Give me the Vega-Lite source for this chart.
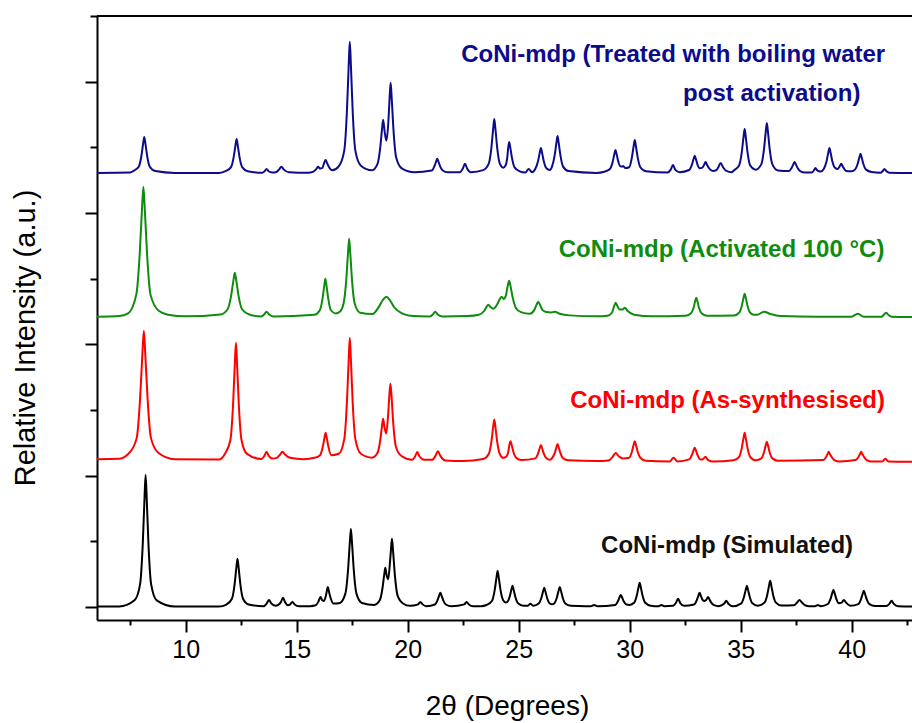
{
"$schema": "https://vega.github.io/schema/vega-lite/v6.json",
"width": 815, "height": 604,
"autosize": {"type": "none"},
"padding": {"left": 97, "top": 16, "right": 0, "bottom": 103},
"background": "white",
"config": {"view": {"stroke": null}, "font": "Liberation Sans"},
"datasets": {
"k": [{"x":6,"y":0.2},{"x":7,"y":0.3},{"x":7.69,"y":5},{"x":7.94,"y":17.1},{"x":8.06,"y":47.2},{"x":8.14,"y":82.4},{"x":8.19,"y":100.5},{"x":8.24,"y":82.4},{"x":8.32,"y":47.2},{"x":8.44,"y":17.1},{"x":8.69,"y":5},{"x":9.5,"y":0.3},{"x":11.5,"y":0.3},{"x":11.83,"y":1.8},{"x":12.08,"y":6.2},{"x":12.2,"y":17.2},{"x":12.28,"y":30},{"x":12.33,"y":36.6},{"x":12.38,"y":30},{"x":12.46,"y":17.2},{"x":12.58,"y":6.2},{"x":12.83,"y":1.8},{"x":13.5,"y":0.5},{"x":13.65,"y":2.7},{"x":13.75,"y":5.3},{"x":13.85,"y":2.7},{"x":14.05,"y":0.8},{"x":14.28,"y":3.4},{"x":14.38,"y":6.9},{"x":14.48,"y":3.4},{"x":14.6,"y":1.2},{"x":14.7,"y":1.9},{"x":14.8,"y":3.8},{"x":14.9,"y":1.9},{"x":15.1,"y":0.4},{"x":15.6,"y":0.5},{"x":15.85,"y":1.2},{"x":15.97,"y":3.8},{"x":16.07,"y":7.6},{"x":16.15,"y":5},{"x":16.23,"y":4.5},{"x":16.32,"y":9},{"x":16.4,"y":15.2},{"x":16.46,"y":11},{"x":16.54,"y":6},{"x":16.66,"y":2.5},{"x":16.94,"y":3.0},{"x":17.19,"y":10.1},{"x":17.31,"y":27.9},{"x":17.39,"y":48.7},{"x":17.44,"y":59.4},{"x":17.49,"y":48.7},{"x":17.57,"y":27.9},{"x":17.69,"y":10.1},{"x":17.94,"y":3.0},{"x":18.49,"y":1.5},{"x":18.74,"y":5},{"x":18.86,"y":14},{"x":18.94,"y":24.4},{"x":18.99,"y":29.7},{"x":19.05,"y":24},{"x":19.12,"y":21},{"x":19.2,"y":34},{"x":19.24,"y":42.5},{"x":19.29,"y":51.8},{"x":19.34,"y":42.5},{"x":19.42,"y":24.3},{"x":19.54,"y":8.8},{"x":19.79,"y":2.6},{"x":20.1,"y":0.8},{"x":20.47,"y":1.9},{"x":20.57,"y":3.8},{"x":20.67,"y":1.9},{"x":20.85,"y":0.5},{"x":21.22,"y":1.8},{"x":21.34,"y":5},{"x":21.42,"y":8.8},{"x":21.47,"y":10.7},{"x":21.52,"y":8.8},{"x":21.6,"y":5},{"x":21.72,"y":1.8},{"x":21.97,"y":0.5},{"x":22.55,"y":1.9},{"x":22.65,"y":3.8},{"x":22.75,"y":1.9},{"x":22.95,"y":0.4},{"x":23.3,"y":0.5},{"x":23.55,"y":1.4},{"x":23.8,"y":4.7},{"x":23.92,"y":12.9},{"x":24.0,"y":22.5},{"x":24.05,"y":27.4},{"x":24.1,"y":22.5},{"x":24.18,"y":12.9},{"x":24.3,"y":5},{"x":24.42,"y":3.3},{"x":24.52,"y":4.5},{"x":24.59,"y":7.5},{"x":24.67,"y":13.1},{"x":24.72,"y":16},{"x":24.77,"y":13.1},{"x":24.85,"y":7.5},{"x":24.97,"y":2.7},{"x":25.22,"y":0.8},{"x":25.4,"y":0.8},{"x":25.53,"y":2.3},{"x":25.66,"y":0.8},{"x":25.9,"y":2.5},{"x":26.02,"y":6.8},{"x":26.1,"y":11.9},{"x":26.15,"y":14.5},{"x":26.2,"y":11.9},{"x":26.28,"y":6.8},{"x":26.4,"y":2.6},{"x":26.5,"y":2.0},{"x":26.6,"y":2.6},{"x":26.72,"y":7.1},{"x":26.8,"y":12.5},{"x":26.85,"y":15.2},{"x":26.9,"y":12.5},{"x":26.98,"y":7.1},{"x":27.1,"y":2.6},{"x":27.35,"y":0.8},{"x":28.0,"y":0.5},{"x":28.25,"y":0.5},{"x":28.4,"y":1.5},{"x":28.55,"y":0.5},{"x":29.35,"y":1.5},{"x":29.47,"y":4.3},{"x":29.55,"y":7.5},{"x":29.6,"y":9.1},{"x":29.65,"y":7.5},{"x":29.73,"y":4.3},{"x":29.85,"y":1.8},{"x":30.0,"y":1.5},{"x":30.2,"y":3.1},{"x":30.32,"y":8.6},{"x":30.4,"y":15},{"x":30.45,"y":18.3},{"x":30.5,"y":15},{"x":30.58,"y":8.6},{"x":30.7,"y":3.1},{"x":30.95,"y":0.9},{"x":31.3,"y":0.5},{"x":31.43,"y":1.5},{"x":31.56,"y":0.5},{"x":31.95,"y":0.8},{"x":32.08,"y":2.9},{"x":32.18,"y":6.1},{"x":32.28,"y":2.9},{"x":32.45,"y":0.8},{"x":32.9,"y":1.8},{"x":33.02,"y":5},{"x":33.1,"y":8.8},{"x":33.15,"y":10.7},{"x":33.2,"y":8.8},{"x":33.28,"y":5.5},{"x":33.35,"y":4.5},{"x":33.43,"y":5},{"x":33.48,"y":6.2},{"x":33.53,"y":7.6},{"x":33.58,"y":6.2},{"x":33.66,"y":3.6},{"x":33.8,"y":1.3},{"x":34.0,"y":0.5},{"x":34.25,"y":2.3},{"x":34.35,"y":4.6},{"x":34.45,"y":2.3},{"x":34.65,"y":0.5},{"x":35.03,"y":2.7},{"x":35.15,"y":7.5},{"x":35.23,"y":13.1},{"x":35.28,"y":16},{"x":35.33,"y":13.1},{"x":35.41,"y":7.5},{"x":35.53,"y":2.7},{"x":35.78,"y":0.8},{"x":36.08,"y":3.4},{"x":36.2,"y":9.3},{"x":36.28,"y":16.2},{"x":36.33,"y":19.8},{"x":36.38,"y":16.2},{"x":36.46,"y":9.3},{"x":36.58,"y":3.4},{"x":36.83,"y":1},{"x":37.4,"y":1.2},{"x":37.55,"y":3.5},{"x":37.65,"y":5.3},{"x":37.75,"y":3.5},{"x":37.9,"y":1.2},{"x":38.1,"y":0.5},{"x":38.35,"y":0.5},{"x":38.48,"y":1.5},{"x":38.61,"y":0.5},{"x":38.93,"y":2.2},{"x":39.05,"y":6.1},{"x":39.13,"y":10.7},{"x":39.18,"y":13},{"x":39.23,"y":10.7},{"x":39.31,"y":6.1},{"x":39.42,"y":2.8},{"x":39.55,"y":3.2},{"x":39.65,"y":5.3},{"x":39.75,"y":3.2},{"x":39.95,"y":0.8},{"x":40.3,"y":2.1},{"x":40.42,"y":5.7},{"x":40.5,"y":10},{"x":40.55,"y":12.2},{"x":40.6,"y":10},{"x":40.68,"y":5.7},{"x":40.8,"y":2.1},{"x":41.05,"y":0.6},{"x":41.55,"y":0.6},{"x":41.7,"y":2.3},{"x":41.8,"y":4.6},{"x":41.9,"y":2.3},{"x":42.1,"y":0.5},{"x":42.75,"y":0.3}],
"r": [{"x":6,"y":112.5},{"x":7,"y":112.8},{"x":7.46,"y":117.4},{"x":7.79,"y":128.7},{"x":7.94,"y":158.2},{"x":8.045,"y":192.6},{"x":8.11,"y":210.3},{"x":8.175,"y":192.6},{"x":8.28,"y":158.2},{"x":8.43,"y":128.7},{"x":8.76,"y":117.4},{"x":9.5,"y":112.5},{"x":11.5,"y":112.3},{"x":11.76,"y":116.5},{"x":12.01,"y":127.1},{"x":12.13,"y":153.9},{"x":12.21,"y":185.1},{"x":12.26,"y":201.1},{"x":12.31,"y":185.1},{"x":12.39,"y":153.9},{"x":12.51,"y":127.1},{"x":12.76,"y":116.5},{"x":13.4,"y":112.6},{"x":13.54,"y":115},{"x":13.64,"y":118.1},{"x":13.74,"y":115},{"x":13.9,"y":113},{"x":14.1,"y":113.5},{"x":14.25,"y":116},{"x":14.36,"y":118.1},{"x":14.47,"y":116},{"x":14.7,"y":113.5},{"x":15.3,"y":112.5},{"x":15.8,"y":113.5},{"x":16.05,"y":115.5},{"x":16.17,"y":121.7},{"x":16.25,"y":128.9},{"x":16.3,"y":132.6},{"x":16.35,"y":128.9},{"x":16.43,"y":121.7},{"x":16.55,"y":115.5},{"x":16.89,"y":116.6},{"x":17.14,"y":127.8},{"x":17.26,"y":155.7},{"x":17.34,"y":188.2},{"x":17.39,"y":204.9},{"x":17.44,"y":188.2},{"x":17.52,"y":155.7},{"x":17.64,"y":127.8},{"x":17.89,"y":116.6},{"x":18.39,"y":113.6},{"x":18.64,"y":117.3},{"x":18.76,"y":126.7},{"x":18.84,"y":137.6},{"x":18.89,"y":143.2},{"x":18.95,"y":137},{"x":19.03,"y":132},{"x":19.12,"y":147},{"x":19.17,"y":160.5},{"x":19.22,"y":169.9},{"x":19.27,"y":160.5},{"x":19.35,"y":139.2},{"x":19.47,"y":121.8},{"x":19.72,"y":114.9},{"x":20.2,"y":112},{"x":20.33,"y":114.5},{"x":20.43,"y":117.9},{"x":20.53,"y":114.5},{"x":20.75,"y":112},{"x":21.1,"y":112},{"x":21.25,"y":115},{"x":21.36,"y":118.6},{"x":21.47,"y":115},{"x":21.7,"y":111.5},{"x":22.5,"y":111},{"x":23.4,"y":112.6},{"x":23.65,"y":116.4},{"x":23.77,"y":125.9},{"x":23.85,"y":137},{"x":23.9,"y":142.7},{"x":23.95,"y":137},{"x":24.03,"y":125.9},{"x":24.15,"y":116.4},{"x":24.3,"y":113.5},{"x":24.45,"y":114.5},{"x":24.53,"y":118.1},{"x":24.58,"y":123.5},{"x":24.63,"y":126.2},{"x":24.68,"y":123.5},{"x":24.76,"y":118.1},{"x":24.88,"y":113.6},{"x":25.13,"y":111.8},{"x":25.75,"y":113.1},{"x":25.87,"y":116.7},{"x":25.95,"y":121},{"x":26.0,"y":123.2},{"x":26.05,"y":121},{"x":26.13,"y":116.7},{"x":26.25,"y":113.1},{"x":26.4,"y":112},{"x":26.5,"y":113.2},{"x":26.62,"y":117.1},{"x":26.7,"y":121.7},{"x":26.75,"y":124},{"x":26.8,"y":121.7},{"x":26.88,"y":117.1},{"x":27.0,"y":113.2},{"x":27.25,"y":111.6},{"x":28.5,"y":111},{"x":29.05,"y":111.5},{"x":29.22,"y":114},{"x":29.37,"y":117.1},{"x":29.52,"y":114.5},{"x":29.7,"y":113},{"x":29.98,"y":113.6},{"x":30.1,"y":118.1},{"x":30.18,"y":123.5},{"x":30.23,"y":126.2},{"x":30.28,"y":123.5},{"x":30.36,"y":118.1},{"x":30.48,"y":113.6},{"x":30.73,"y":111.3},{"x":31.8,"y":110.8},{"x":31.98,"y":113.5},{"x":32.15,"y":110.8},{"x":32.68,"y":112.3},{"x":32.8,"y":115.5},{"x":32.88,"y":119.3},{"x":32.93,"y":121.2},{"x":32.98,"y":119.3},{"x":33.06,"y":115.5},{"x":33.18,"y":112.3},{"x":33.3,"y":112.5},{"x":33.41,"y":114.3},{"x":33.52,"y":112},{"x":33.75,"y":110.7},{"x":34.68,"y":111.6},{"x":34.93,"y":114.3},{"x":35.05,"y":120.9},{"x":35.13,"y":128.6},{"x":35.18,"y":132.6},{"x":35.23,"y":128.6},{"x":35.31,"y":120.9},{"x":35.43,"y":114.3},{"x":35.68,"y":111.6},{"x":35.93,"y":113.1},{"x":36.05,"y":117.6},{"x":36.13,"y":123},{"x":36.18,"y":125.7},{"x":36.23,"y":123},{"x":36.31,"y":117.6},{"x":36.43,"y":113.1},{"x":36.68,"y":111.3},{"x":38.72,"y":111.8},{"x":38.85,"y":114.1},{"x":38.92,"y":116.5},{"x":38.97,"y":118.1},{"x":39.02,"y":116.5},{"x":39.1,"y":114.1},{"x":39.22,"y":111.8},{"x":39.45,"y":110.7},{"x":40.18,"y":111.8},{"x":40.31,"y":114.1},{"x":40.38,"y":116.5},{"x":40.43,"y":118.1},{"x":40.48,"y":116.5},{"x":40.56,"y":114.1},{"x":40.68,"y":111.8},{"x":40.9,"y":110.7},{"x":41.38,"y":110.7},{"x":41.52,"y":112.8},{"x":41.66,"y":110.7},{"x":42.75,"y":110.5}],
"g": [{"x":6,"y":221},{"x":7,"y":221.5},{"x":7.4,"y":223.5},{"x":7.77,"y":237.8},{"x":7.92,"y":267.5},{"x":8.025,"y":302.2},{"x":8.09,"y":320},{"x":8.155,"y":302.2},{"x":8.26,"y":267.5},{"x":8.41,"y":237.8},{"x":8.78,"y":225.5},{"x":9.2,"y":222.5},{"x":10,"y":221.3},{"x":11.56,"y":222.7},{"x":11.885,"y":226.7},{"x":12.04,"y":236.7},{"x":12.145,"y":248.5},{"x":12.21,"y":254.5},{"x":12.275,"y":248.5},{"x":12.38,"y":236.7},{"x":12.535,"y":226.7},{"x":12.86,"y":222.7},{"x":13.4,"y":221.2},{"x":13.54,"y":222.9},{"x":13.64,"y":224.8},{"x":13.74,"y":222.9},{"x":13.95,"y":221.2},{"x":15.79,"y":222.4},{"x":16.04,"y":225.9},{"x":16.16,"y":234.6},{"x":16.24,"y":244.7},{"x":16.29,"y":249.9},{"x":16.34,"y":244.7},{"x":16.42,"y":234.6},{"x":16.54,"y":225.9},{"x":16.75,"y":223.5},{"x":16.95,"y":225},{"x":17.11,"y":231.1},{"x":17.23,"y":248.9},{"x":17.31,"y":269.7},{"x":17.36,"y":280.4},{"x":17.41,"y":269.7},{"x":17.49,"y":248.9},{"x":17.61,"y":231.1},{"x":17.86,"y":224},{"x":18.4,"y":223},{"x":18.7,"y":228.5},{"x":18.87,"y":233.5},{"x":19.04,"y":236.2},{"x":19.2,"y":233.5},{"x":19.4,"y":228},{"x":19.75,"y":223.5},{"x":20.1,"y":221.8},{"x":21.0,"y":221.2},{"x":21.14,"y":222.9},{"x":21.24,"y":224.8},{"x":21.34,"y":222.9},{"x":21.55,"y":221.2},{"x":22.7,"y":221.5},{"x":23.2,"y":222.5},{"x":23.45,"y":225.5},{"x":23.55,"y":228.5},{"x":23.63,"y":230.1},{"x":23.72,"y":228.5},{"x":23.85,"y":227},{"x":24.0,"y":229.5},{"x":24.12,"y":233.5},{"x":24.23,"y":236.2},{"x":24.32,"y":234.5},{"x":24.42,"y":237},{"x":24.5,"y":244},{"x":24.57,"y":248.4},{"x":24.64,"y":243.5},{"x":24.73,"y":235.5},{"x":24.88,"y":227.5},{"x":25.1,"y":224.5},{"x":25.5,"y":223.3},{"x":25.7,"y":226},{"x":25.8,"y":230},{"x":25.88,"y":232.4},{"x":25.96,"y":230},{"x":26.08,"y":226},{"x":26.25,"y":224.5},{"x":26.45,"y":224.2},{"x":26.63,"y":224.8},{"x":26.85,"y":223.2},{"x":27.3,"y":222},{"x":28.5,"y":221.3},{"x":29.0,"y":221.8},{"x":29.2,"y":224},{"x":29.3,"y":229},{"x":29.37,"y":231.7},{"x":29.45,"y":229},{"x":29.55,"y":226.5},{"x":29.68,"y":226.5},{"x":29.78,"y":227.9},{"x":29.9,"y":225.5},{"x":30.2,"y":222.5},{"x":31,"y":221.3},{"x":32.5,"y":221.7},{"x":32.75,"y":223.5},{"x":32.88,"y":227.8},{"x":32.95,"y":232.9},{"x":33.0,"y":235.5},{"x":33.05,"y":232.9},{"x":33.12,"y":227.8},{"x":33.25,"y":223.5},{"x":33.5,"y":221.7},{"x":34.7,"y":221.9},{"x":34.93,"y":224},{"x":35.05,"y":229.2},{"x":35.13,"y":235.4},{"x":35.18,"y":238.5},{"x":35.23,"y":235.4},{"x":35.31,"y":229.2},{"x":35.43,"y":224},{"x":35.6,"y":222.5},{"x":35.75,"y":222.5},{"x":36.05,"y":224.8},{"x":36.35,"y":223},{"x":36.8,"y":221.5},{"x":38.5,"y":221},{"x":40.0,"y":221},{"x":40.28,"y":223.3},{"x":40.55,"y":221},{"x":41.35,"y":221},{"x":41.45,"y":222.5},{"x":41.55,"y":224},{"x":41.65,"y":222.5},{"x":41.8,"y":221},{"x":42.75,"y":220.8}],
"b": [{"x":6,"y":330.5},{"x":7.5,"y":330.8},{"x":7.63,"y":331.9},{"x":7.88,"y":335.2},{"x":8.0,"y":343.4},{"x":8.08,"y":353},{"x":8.13,"y":357.9},{"x":8.18,"y":353},{"x":8.26,"y":343.4},{"x":8.38,"y":335.2},{"x":8.63,"y":331.9},{"x":9.5,"y":330.5},{"x":11.5,"y":330.5},{"x":11.79,"y":331.8},{"x":12.04,"y":334.9},{"x":12.16,"y":342.7},{"x":12.24,"y":351.7},{"x":12.29,"y":356.4},{"x":12.34,"y":351.7},{"x":12.42,"y":342.7},{"x":12.54,"y":334.9},{"x":12.79,"y":331.8},{"x":13.45,"y":330.6},{"x":13.55,"y":331.8},{"x":13.64,"y":333.5},{"x":13.73,"y":331.8},{"x":13.9,"y":330.8},{"x":14.05,"y":331},{"x":14.2,"y":333},{"x":14.31,"y":335.1},{"x":14.42,"y":333},{"x":14.65,"y":331},{"x":15.5,"y":330.6},{"x":15.75,"y":331.5},{"x":15.87,"y":333.2},{"x":15.96,"y":335.1},{"x":16.06,"y":333.8},{"x":16.16,"y":334.5},{"x":16.24,"y":338.3},{"x":16.3,"y":340.4},{"x":16.36,"y":338.3},{"x":16.45,"y":335},{"x":16.6,"y":332.5},{"x":16.89,"y":335.5},{"x":17.14,"y":347.5},{"x":17.26,"y":377.4},{"x":17.34,"y":412.3},{"x":17.39,"y":430.3},{"x":17.44,"y":412.3},{"x":17.52,"y":377.4},{"x":17.64,"y":347.5},{"x":17.89,"y":336},{"x":18.39,"y":332.5},{"x":18.64,"y":337.4},{"x":18.76,"y":349.5},{"x":18.84,"y":363.6},{"x":18.89,"y":370.9},{"x":18.96,"y":362},{"x":19.04,"y":355},{"x":19.13,"y":370},{"x":19.18,"y":386.7},{"x":19.23,"y":399.1},{"x":19.28,"y":386.7},{"x":19.36,"y":362.7},{"x":19.48,"y":342.2},{"x":19.73,"y":334},{"x":20.3,"y":331},{"x":21.08,"y":332.3},{"x":21.2,"y":335.5},{"x":21.28,"y":339.3},{"x":21.33,"y":341.2},{"x":21.38,"y":339.3},{"x":21.46,"y":335.5},{"x":21.58,"y":332.3},{"x":21.8,"y":331},{"x":22.35,"y":331},{"x":22.48,"y":333.7},{"x":22.58,"y":337.4},{"x":22.68,"y":333.7},{"x":22.85,"y":331},{"x":23.4,"y":332.6},{"x":23.65,"y":337.5},{"x":23.77,"y":349.8},{"x":23.85,"y":364.2},{"x":23.9,"y":371.6},{"x":23.95,"y":364.2},{"x":24.03,"y":349.8},{"x":24.15,"y":337.5},{"x":24.3,"y":334.5},{"x":24.4,"y":336},{"x":24.48,"y":341.6},{"x":24.53,"y":349.9},{"x":24.57,"y":354.1},{"x":24.62,"y":349.9},{"x":24.7,"y":341.6},{"x":24.82,"y":334.5},{"x":25.05,"y":331.7},{"x":25.3,"y":330.8},{"x":25.45,"y":333.5},{"x":25.6,"y":331},{"x":25.75,"y":333.7},{"x":25.87,"y":339.4},{"x":25.95,"y":346.1},{"x":26.0,"y":349.5},{"x":26.05,"y":346.1},{"x":26.13,"y":339.4},{"x":26.25,"y":334},{"x":26.4,"y":332.8},{"x":26.5,"y":335.3},{"x":26.62,"y":343.8},{"x":26.7,"y":353.6},{"x":26.75,"y":358.7},{"x":26.8,"y":353.6},{"x":26.88,"y":343.8},{"x":27.0,"y":335.3},{"x":27.25,"y":331.9},{"x":28.5,"y":330.5},{"x":28.86,"y":331.4},{"x":29.11,"y":333.5},{"x":29.23,"y":338.7},{"x":29.31,"y":344.9},{"x":29.36,"y":348},{"x":29.41,"y":344.9},{"x":29.49,"y":339},{"x":29.58,"y":335.5},{"x":29.66,"y":335.3},{"x":29.71,"y":335.8},{"x":29.8,"y":334.2},{"x":29.98,"y":334.8},{"x":30.1,"y":342.3},{"x":30.18,"y":351},{"x":30.23,"y":355.6},{"x":30.28,"y":351},{"x":30.36,"y":342.3},{"x":30.48,"y":334.8},{"x":30.73,"y":331.8},{"x":31.7,"y":330.8},{"x":31.85,"y":333},{"x":31.95,"y":336.6},{"x":32.05,"y":333},{"x":32.25,"y":331},{"x":32.68,"y":332.7},{"x":32.8,"y":336.6},{"x":32.88,"y":341.2},{"x":32.93,"y":343.5},{"x":32.98,"y":341.2},{"x":33.06,"y":336.6},{"x":33.16,"y":334},{"x":33.27,"y":334.5},{"x":33.35,"y":336.5},{"x":33.42,"y":338.9},{"x":33.49,"y":336.5},{"x":33.6,"y":333.5},{"x":33.75,"y":332},{"x":33.9,"y":332.5},{"x":34.0,"y":335},{"x":34.1,"y":338.1},{"x":34.2,"y":335},{"x":34.35,"y":332},{"x":34.6,"y":331},{"x":34.68,"y":332.2},{"x":34.93,"y":336.2},{"x":35.05,"y":346.2},{"x":35.13,"y":358},{"x":35.18,"y":364},{"x":35.23,"y":358},{"x":35.31,"y":346.2},{"x":35.43,"y":336.2},{"x":35.68,"y":333},{"x":35.93,"y":337},{"x":36.05,"y":348.4},{"x":36.13,"y":361.7},{"x":36.18,"y":368.6},{"x":36.23,"y":361.7},{"x":36.31,"y":348.4},{"x":36.43,"y":337},{"x":36.68,"y":332.4},{"x":37.18,"y":331.9},{"x":37.3,"y":334.5},{"x":37.38,"y":337.3},{"x":37.43,"y":338.9},{"x":37.48,"y":337.3},{"x":37.56,"y":334.5},{"x":37.68,"y":331.9},{"x":37.9,"y":330.8},{"x":38.2,"y":330.8},{"x":38.3,"y":332.4},{"x":38.37,"y":334.3},{"x":38.45,"y":332.4},{"x":38.6,"y":331.5},{"x":38.75,"y":333.7},{"x":38.87,"y":339.4},{"x":38.95,"y":346.1},{"x":39.0,"y":349.5},{"x":39.05,"y":346.1},{"x":39.13,"y":339.4},{"x":39.25,"y":334.5},{"x":39.38,"y":333.5},{"x":39.46,"y":335.5},{"x":39.53,"y":337.4},{"x":39.6,"y":335.5},{"x":39.75,"y":332},{"x":40.0,"y":331.8},{"x":40.15,"y":333},{"x":40.27,"y":337.3},{"x":40.35,"y":342.4},{"x":40.4,"y":345},{"x":40.45,"y":342.4},{"x":40.53,"y":337.3},{"x":40.65,"y":333},{"x":40.9,"y":331.2},{"x":41.3,"y":330.7},{"x":41.4,"y":332},{"x":41.48,"y":333.5},{"x":41.56,"y":332},{"x":41.7,"y":330.7},{"x":42.75,"y":330.5}],
"labels": [
{"s":"b","x":31.96,"y":415.3,"t":"CoNi-mdp (Treated with boiling water"},
{"s":"b","x":36.40,"y":385.6,"t":"post activation)"},
{"s":"g","x":34.14,"y":266.8,"t":"CoNi-mdp (Activated 100 °C)"},
{"s":"r","x":34.41,"y":151.8,"t":"CoNi-mdp (As-synthesised)"},
{"s":"k","x":34.39,"y":40.9,"t":"CoNi-mdp (Simulated)"}
]
},
"layer": [
{
"data": {"name": "k"},
"mark": {"type": "line", "interpolate": "monotone", "strokeWidth": 2, "strokeJoin": "round", "color": "#000000"},
"encoding": {
"x": {"field": "x", "type": "quantitative", "scale": {"domain": [6, 42.72], "nice": false, "zero": false},
"axis": {"title": "2θ (Degrees)", "values": [7.5,10,12.5,15,17.5,20,22.5,25,27.5,30,32.5,35,37.5,40,42.5], "labelExpr": "datum.value % 5 === 0 ? datum.label : ''", "tickSize": {"condition": {"test": "datum.value % 5 !== 0", "value": 5}, "value": 12}, "tickWidth": 2, "tickColor": "black", "domainWidth": 2, "domainColor": "black", "grid": false, "labelFontSize": 25, "labelColor": "black", "labelFont": "Liberation Sans", "labelBaseline": "alphabetic", "labelPadding": 25, "labelOverlap": false, "labelFlush": false, "titleFont": "Liberation Sans", "titleFontSize": 28, "titleFontWeight": "normal", "titleColor": "black", "titleBaseline": "alphabetic", "titleY": 94, "titleX": 410}},
"y": {"field": "y", "type": "quantitative", "scale": {"domain": [-10, 450], "nice": false, "zero": false},
"axis": {"title": "Relative Intensity (a.u.)", "values": [0,50,100,150,200,250,300,350,400,450], "labels": false, "tickSize": {"condition": {"test": "datum.value % 100 !== 0", "value": 7}, "value": 12}, "tickWidth": 2, "tickColor": "black", "domainWidth": 2, "domainColor": "black", "grid": false, "titleFont": "Liberation Sans", "titleFontSize": 29, "titleFontWeight": "normal", "titleColor": "black", "titleBaseline": "alphabetic", "titleAngle": -90, "titleAlign": "center", "titleX": -63, "titleY": 321.5}}
}
},
{
"data": {"name": "r"},
"mark": {"type": "line", "interpolate": "monotone", "strokeWidth": 2, "strokeJoin": "round", "color": "#ff0000"},
"encoding": {"x": {"field": "x", "type": "quantitative"}, "y": {"field": "y", "type": "quantitative"}}
},
{
"data": {"name": "g"},
"mark": {"type": "line", "interpolate": "monotone", "strokeWidth": 2, "strokeJoin": "round", "color": "#0e8c0e"},
"encoding": {"x": {"field": "x", "type": "quantitative"}, "y": {"field": "y", "type": "quantitative"}}
},
{
"data": {"name": "b"},
"mark": {"type": "line", "interpolate": "monotone", "strokeWidth": 2, "strokeJoin": "round", "color": "#0c0c8a"},
"encoding": {"x": {"field": "x", "type": "quantitative"}, "y": {"field": "y", "type": "quantitative"}}
},
{
"data": {"name": "labels"},
"mark": {"type": "text", "fontSize": 24, "fontWeight": "bold", "font": "Liberation Sans", "align": "center", "baseline": "alphabetic"},
"encoding": {"x": {"field": "x", "type": "quantitative"}, "y": {"field": "y", "type": "quantitative"}, "text": {"field": "t"},
"color": {"field": "s", "type": "nominal", "scale": {"domain": ["k","r","g","b"], "range": ["#111111","#ff0000","#0e8c0e","#0c0c8a"]}, "legend": null}}
},
{
"data": {"values": [{}]},
"mark": {"type": "rule", "strokeWidth": 2, "color": "black"},
"encoding": {"y": {"datum": 450, "type": "quantitative"}}
}
]
}
